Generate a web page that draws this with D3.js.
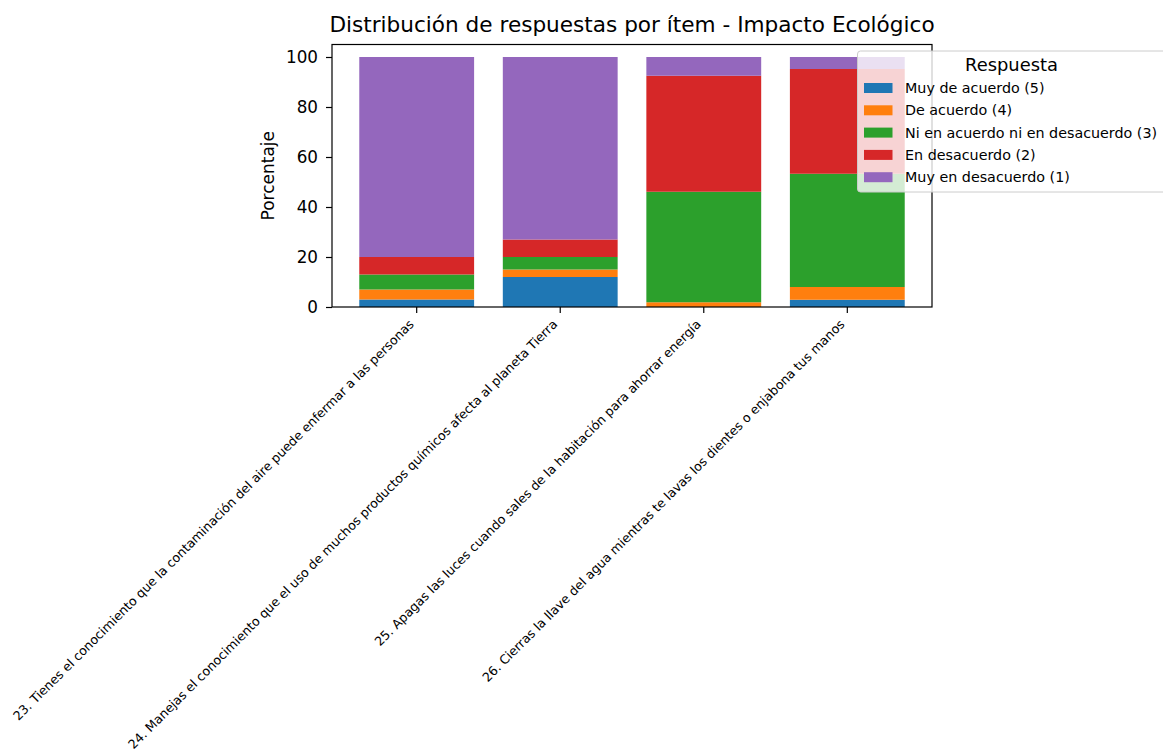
<!DOCTYPE html>
<html>
<head>
<meta charset="utf-8">
<script src="https://cdn.jsdelivr.net/npm/d3@7"></script>
<style>
  body { margin: 0; background: #fff; }
  svg text { font-family: "DejaVu Sans", sans-serif; fill: #000; }
</style>
</head>
<body>
<svg id="chart" width="1163" height="756"></svg>
<script>
// Items (x categories)
const items = [
  "23. Tienes el conocimiento que la contaminación del aire puede enfermar a las personas",
  "24. Manejas el conocimiento que el uso de muchos productos químicos afecta al planeta Tierra",
  "25. Apagas las luces cuando sales de la habitación para ahorrar energía",
  "26. Cierras la llave del agua mientras te lavas los dientes o enjabona tus manos"
];

// Response categories, stacked bottom to top
const responses = [
  "Muy de acuerdo (5)",
  "De acuerdo (4)",
  "Ni en acuerdo ni en desacuerdo (3)",
  "En desacuerdo (2)",
  "Muy en desacuerdo (1)"
];
const colors = ["#1f77b4", "#ff7f0e", "#2ca02c", "#d62728", "#9467bd"];

// Percentages per response, one value per item
const muyDeAcuerdo      = [3, 12, 0, 2.9];
const deAcuerdo         = [4, 3, 1.9, 5.1];
const niNi              = [6, 5, 44.2, 45.3];
const enDesacuerdo      = [7, 7, 46.4, 41.9];
const muyEnDesacuerdo   = [80, 73, 7.5, 4.8];

const yTicks = [0, 20, 40, 60, 80, 100];

const chartTitle = "Distribución de respuestas por ítem - Impacto Ecológico";
const yTitle = "Porcentaje";
const legendTitle = "Respuesta";

// Build table for stacking
const series = [muyDeAcuerdo, deAcuerdo, niNi, enDesacuerdo, muyEnDesacuerdo];
const table = items.map((item, i) => {
  const row = { item };
  responses.forEach((r, k) => { row[r] = series[k][i]; });
  return row;
});
const stacked = d3.stack().keys(responses)(table);

// Axes area
const plotLeft = 332, plotRight = 932, plotTop = 44.5, plotBottom = 307;

const x = d3.scaleBand()
  .domain(items)
  .range([plotLeft, plotRight])
  .paddingInner(0.2)
  .paddingOuter(0.19);

const y = d3.scaleLinear()
  .domain([0, 105])
  .range([plotBottom, plotTop]);

const color = d3.scaleOrdinal().domain(responses).range(colors);

const svg = d3.select("#chart");

// Bars
svg.append("g")
  .selectAll("g")
  .data(stacked)
  .enter()
  .append("g")
  .attr("fill", d => color(d.key))
  .selectAll("rect")
  .data(d => d)
  .enter()
  .append("rect")
  .attr("x", d => x(d.data.item))
  .attr("width", x.bandwidth())
  .attr("y", d => y(d[1]))
  .attr("height", d => y(d[0]) - y(d[1]));

// Frame
svg.append("rect")
  .attr("x", plotLeft)
  .attr("y", plotTop)
  .attr("width", plotRight - plotLeft)
  .attr("height", plotBottom - plotTop)
  .attr("fill", "none")
  .attr("stroke", "#000")
  .attr("stroke-width", 1.2);

// Y axis
const yAxis = svg.append("g")
  .attr("transform", `translate(${plotLeft},0)`)
  .call(d3.axisLeft(y).tickValues(yTicks).tickSize(6).tickPadding(8));
yAxis.select(".domain").remove();
yAxis.selectAll(".tick line").attr("stroke", "#000").attr("stroke-width", 1.2);
yAxis.selectAll(".tick text")
  .style("font-family", "DejaVu Sans, sans-serif")
  .style("font-size", "16.8px")
  .attr("fill", "#000");

// X axis ticks
const xAxis = svg.append("g")
  .attr("transform", `translate(0,${plotBottom})`)
  .call(d3.axisBottom(x).tickSize(6).tickFormat(""));
xAxis.select(".domain").remove();
xAxis.selectAll(".tick line").attr("stroke", "#000").attr("stroke-width", 1.2);

// Rotated x labels
svg.append("g")
  .selectAll("text")
  .data(items)
  .enter()
  .append("text")
  .attr("transform", d => `translate(${x(d) + x.bandwidth() / 2 - 2},${plotBottom + 18})rotate(-45)`)
  .attr("text-anchor", "end")
  .style("font-size", "12.6px")
  .text(d => d);

// Y title
svg.append("text")
  .attr("transform", `translate(274,${(plotTop + plotBottom) / 2})rotate(-90)`)
  .attr("text-anchor", "middle")
  .style("font-size", "17px")
  .text(yTitle);

// Chart title
svg.append("text")
  .attr("x", (plotLeft + plotRight) / 2)
  .attr("y", 32)
  .attr("text-anchor", "middle")
  .style("font-size", "21.6px")
  .text(chartTitle);

// Legend
const legend = svg.append("g").attr("transform", "translate(857.5,51)");
legend.append("rect")
  .attr("width", 312)
  .attr("height", 141)
  .attr("rx", 3)
  .attr("fill", "#fff")
  .attr("fill-opacity", 0.8)
  .attr("stroke", "#cccccc")
  .attr("stroke-width", 1);

legend.append("text")
  .attr("x", 154)
  .attr("y", 20)
  .attr("text-anchor", "middle")
  .style("font-size", "17.9px")
  .text(legendTitle);

const entry = legend.selectAll("g.entry")
  .data(responses)
  .enter()
  .append("g")
  .attr("class", "entry")
  .attr("transform", (d, i) => `translate(6.5,${37 + i * 22.3})`);

entry.append("rect")
  .attr("width", 28.5)
  .attr("height", 10)
  .attr("y", -5)
  .attr("fill", d => color(d));

entry.append("text")
  .attr("x", 41)
  .attr("y", 5)
  .style("font-size", "14.3px")
  .text(d => d);
</script>
</body>
</html>
